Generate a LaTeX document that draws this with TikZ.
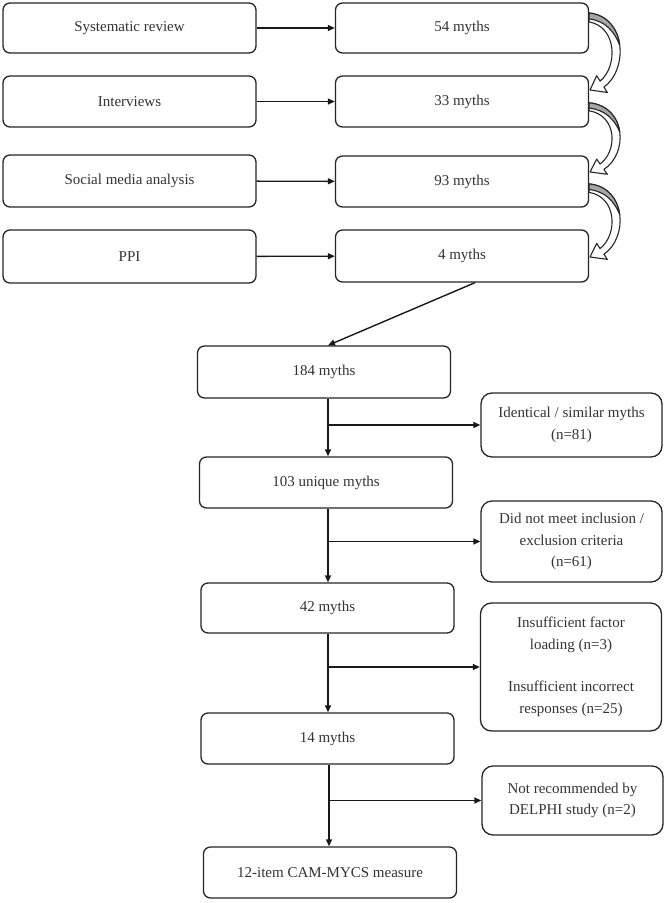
\documentclass[tikz,border=0pt]{standalone}
\usepackage{fontspec}
\setmainfont{Liberation Serif}
\usetikzlibrary{arrows.meta}
\newcommand\curvedarr[2]{%
\begin{scope}[shift={(589,#1)}, yscale=#2]
\path[curvebody] (0,2) .. controls (38,6) and (39,60) .. (14.9,77) -- (18.3,82.5) -- (1,80) -- (7.7,65.5) -- (11.1,71) .. controls (29,56) and (28,16) .. (0,11) -- cycle;
\path[curveshade] (0,2) .. controls (19,4) and (28.75,18.5) .. (30.7,34.6) .. controls (25,20) and (16,10) .. (0,8) -- cycle;
\end{scope}}
\begin{document}
\begin{tikzpicture}[x=1pt,y=-1pt,
 box/.style={draw=black!85, line width=1.3pt, rounded corners=7pt, minimum width=253pt, minimum height=50pt, inner sep=0pt, text=black!80, font=\fontsize{15}{21.5}\selectfont, align=center},
 sidebox/.style={box, rounded corners=11pt, minimum width=181pt},
 arr/.style={draw=black!90, line width=1.4pt, -{Triangle[length=7pt,width=6pt]}},
 curvebody/.style={fill=white, draw=black!85, line width=1.1pt, line join=round},
 curveshade/.style={fill=black!35, draw=black!85, line width=1.1pt, line join=round}
]
\useasboundingbox[fill=white] (0,0) rectangle (666,903);
% top left column
\node[box, minimum height=50pt] (sr) at (129.5,28) {Systematic review};
\node[box, minimum height=51pt] (iv) at (129.5,101.5) {Interviews};
\node[box, minimum height=52pt] (sm) at (129.5,181) {Social media analysis};
\node[box, minimum height=53pt] (ppi) at (129.5,256.5) {PPI};
% top right column
\node[box, minimum height=50pt] (m54) at (462,28) {54 myths};
\node[box, minimum height=51pt] (m33) at (462,101.5) {33 myths};
\node[box, minimum height=51pt] (m93) at (462,181.5) {93 myths};
\node[box, minimum height=52pt] (m4) at (462,256) {4 myths};
% trunk
\node[box, minimum height=52pt] (n184) at (324,372) {184 myths};
\node[box, minimum height=51pt] (n103) at (326,482.5) {103 unique myths};
\node[box, minimum height=50pt] (n42) at (327.5,608) {42 myths};
\node[box, minimum height=51pt] (n14) at (327.5,738.5) {14 myths};
\node[box, minimum height=51pt] (cam) at (330,872.5) {12-item CAM-MYCS measure};
% side boxes
\node[sidebox, minimum height=64pt] (idn) at (571.5,425) {Identical / similar myths\\(n=81)};
\node[sidebox, minimum height=81pt] (dnm) at (571.5,541.5) {Did not meet inclusion /\\exclusion criteria\\(n=61)};
\node[sidebox, minimum height=128pt] (ins) at (571,667) {Insufficient factor\\loading (n=3)\\[21pt]Insufficient incorrect\\responses (n=25)};
\node[sidebox, minimum height=69pt] (nr) at (572.5,800.5) {Not recommended by\\DELPHI study (n=2)};
% horizontal arrows
\draw[arr] (sr) -- (m54);
\draw[arr] (iv) -- (m33);
\draw[arr] (sm) -- (m93);
\draw[arr] (ppi) -- (m4);
% curved block arrows
\curvedarr{11}{0.9875}
\curvedarr{101}{0.8875}
\curvedarr{182}{0.9375}
% diagonal
\draw[arr] ([xshift=13pt]m4.south) -- ([xshift=4pt]n184.north);
% trunk arrows
\draw[arr] ([xshift=2pt]n103.north |- n184.south) -- ([xshift=2pt]n103.north);
\draw[arr] ([xshift=2pt]n103.north |- idn.west) -- (idn.west);
\draw[arr] ([xshift=2pt]n103.north |- n103.south) -- ([xshift=0.5pt]n42.north);
\draw[arr] ([xshift=2pt]n103.north |- dnm.west) -- (dnm.west);
\draw[arr] ([xshift=0.5pt]n42.south) -- ([xshift=0.5pt]n14.north);
\draw[arr] ([xshift=0.5pt]n42.south |- ins.west) -- (ins.west);
\draw[arr] ([xshift=1.5pt]n14.south) -- ([xshift=-1pt]cam.north);
\draw[arr] ([xshift=1.5pt]n14.south |- nr.west) -- (nr.west);
\end{tikzpicture}
\end{document}
